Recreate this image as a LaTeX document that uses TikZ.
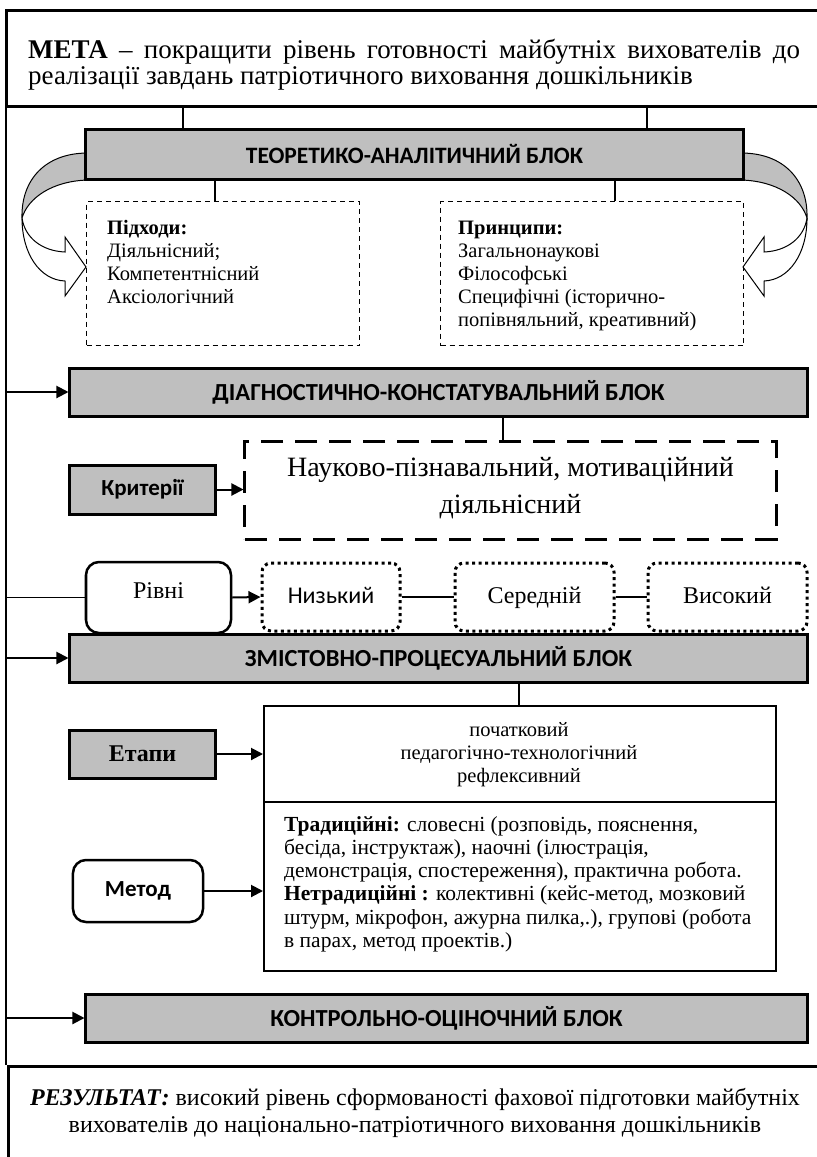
\documentclass[tikz,border=0pt]{standalone}
\usepackage{fontspec}
\setmainfont{Liberation Serif}
\newfontfamily\calfont{Carlito}
\usetikzlibrary{arrows.meta}
\definecolor{blockgray}{RGB}{191,191,191}
\begin{document}
\begin{tikzpicture}[x=1bp,y=-1bp,
  blk/.style={draw, line width=3bp, fill=blockgray, inner sep=0pt, font=\calfont\bfseries\fontsize{24.5bp}{28bp}\selectfont},
  smallblk/.style={draw, line width=3bp, fill=blockgray, inner sep=0pt, minimum width=145bp, minimum height=49bp},
  rbox/.style={draw, line width=2.5bp, rounded corners=13bp, inner sep=0pt, fill=white},
  dbox/.style={draw, line width=1.3bp, dash pattern=on 5bp off 4bp, inner sep=0pt},
  bigdash/.style={draw, line width=3bp, dash pattern=on 22bp off 12bp, inner sep=0pt},
  dotbox/.style={draw, line width=3bp, dash pattern=on 3bp off 3.5bp, rounded corners=9bp, inner sep=0pt,
     minimum height=68bp, text height=17bp, text depth=4bp, font=\fontsize{24bp}{28bp}\selectfont},
  sbox/.style={draw, line width=1.5bp, inner sep=0pt},
  conn/.style={line width=1.3bp},
  spine/.style={line width=1.5bp},
  arr/.style={line width=2bp, -{Triangle[length=12bp,width=12bp]}},
  txt20/.style={inner sep=0pt, anchor=base west, font=\fontsize{20.5bp}{23bp}\selectfont},
  txt21/.style={inner sep=0pt, anchor=base west, font=\fontsize{21.5bp}{23bp}\selectfont},
  ctr20/.style={inner sep=0pt, anchor=base, font=\fontsize{20.5bp}{23bp}\selectfont},
  ctr24/.style={inner sep=0pt, anchor=base, font=\fontsize{24bp}{28bp}\selectfont},
  ctr28/.style={inner sep=0pt, anchor=base, font=\fontsize{28bp}{33bp}\selectfont},
  frame/.style={draw, line width=3bp, inner sep=0pt}
]
\useasboundingbox (0,0) rectangle (817,1157);
\clip (0,0) rectangle (817,1157);

% ---------- frame boxes ----------
\node[frame, minimum width=830bp, minimum height=96bp, anchor=north west] (meta) at (5,9) {};
\node[inner sep=0pt, anchor=base west, font=\fontsize{27bp}{28bp}\selectfont] (meta1) at (28,58)
  {\makebox[772bp][s]{\textbf{МЕТА} – покращити рівень готовності майбутніх вихователів до}};
\node[inner sep=0pt, anchor=base west, font=\fontsize{27bp}{28bp}\selectfont] (meta2) at (28,84)
  {реалізації завдань патріотичного виховання дошкільників};

\node[frame, minimum width=830bp, minimum height=120bp, anchor=north west] (res) at (7,1065) {};
\node[ctr24] (res1) at (415,1105) {\textbf{\textit{РЕЗУЛЬТАТ:}} високий рівень сформованості фахової підготовки майбутніх};
\node[ctr24] (res2) at (415,1132) {вихователів до національно-патріотичного виховання дошкільників};

% spine
\coordinate (sTop) at (6,105);
\coordinate (sBot) at (6,1065);
\draw[spine] (sTop) -- (sBot);

% ---------- curved arrows ----------
\begin{scope}
  \filldraw[fill=blockgray, line width=1bp] (88,153) .. controls (45,153) and (21,180) .. (22,218)
     .. controls (28,198) and (52,181) .. (88,180) -- cycle;
  \filldraw[fill=white, line width=1bp] (22,218) .. controls (22,254) and (40,280) .. (65,281)
     -- (65,296) -- (86,267) -- (65,237) -- (65,252) .. controls (42,251) and (25,238) .. (22,218) -- cycle;
\end{scope}
\begin{scope}[xshift=829bp, xscale=-1]
  \filldraw[fill=blockgray, line width=1bp] (88,153) .. controls (45,153) and (21,180) .. (22,218)
     .. controls (28,198) and (52,181) .. (88,180) -- cycle;
  \filldraw[fill=white, line width=1bp] (22,218) .. controls (22,254) and (40,280) .. (65,281)
     -- (65,296) -- (86,267) -- (65,237) -- (65,252) .. controls (42,251) and (25,238) .. (22,218) -- cycle;
\end{scope}

% ---------- theoretical block ----------
\node[blk, minimum width=657bp, minimum height=50bp, font=\calfont\bfseries\fontsize{23.5bp}{28bp}\selectfont] (teor) at (414.5,154) {ТЕОРЕТИКО-АНАЛІТИЧНИЙ БЛОК};
\coordinate (m1) at (183,105);
\coordinate (m2) at (647,105);
\draw[conn] (m1) -- (m1 |- teor.north);
\draw[conn] (m2) -- (m2 |- teor.north);

\node[dbox, minimum width=273bp, minimum height=144bp, anchor=north west] (appr) at (86,201) {};
\node[dbox, minimum width=303bp, minimum height=144bp, anchor=north west] (princ) at (440,201) {};
\coordinate (t1) at (215,0);
\coordinate (t2) at (615,0);
\draw[conn] (t1 |- teor.south) -- (t1 |- appr.north);
\draw[conn] (t2 |- teor.south) -- (t2 |- princ.north);

\node[txt20] (a1) at (107,234) {\textbf{Підходи:}};
\node[txt20] (a2) at (107,257) {Діяльнісний;};
\node[txt20] (a3) at (107,280) {Компетентнісний};
\node[txt20] (a4) at (107,303) {Аксіологічний};

\node[txt20] (p1) at (458,234) {\textbf{Принципи:}};
\node[txt20] (p2) at (458,257) {Загальнонаукові};
\node[txt20] (p3) at (458,280) {Філософські};
\node[txt20] (p4) at (458,303) {Специфічні (історично-};
\node[txt20] (p5) at (458,326) {попівняльний, креативний)};

% ---------- diagnostic block ----------
\node[blk, minimum width=737bp, minimum height=48bp] (diag) at (438.5,392) {ДІАГНОСТИЧНО-КОНСТАТУВАЛЬНИЙ БЛОК};
\draw[arr] (sTop |- diag.west) -- (diag.west);

\node[bigdash, minimum width=531bp, minimum height=98bp] (critbox) at (510.5,490) {};
\coordinate (d1) at (503,0);
\draw[conn] (d1 |- diag.south) -- (d1 |- critbox.north);
\node[ctr28] (c1) at (510.5,476.5) {Науково-пізнавальний, мотиваційний};
\node[ctr28] (c2) at (510.5,513.5) {діяльнісний};

\node[smallblk, font=\calfont\bfseries\fontsize{23bp}{27bp}\selectfont] (crit) at (142.5,489.5) {Критерії\hspace{15bp}};
\draw[arr] (crit.east) -- (critbox.west |- crit.east);

% ---------- levels ----------
\node[rbox, minimum width=145bp, minimum height=71bp, text height=17bp, text depth=4bp, font=\fontsize{24bp}{28bp}\selectfont] (rivni) at (158.5,597.5) {\raisebox{6bp}{Рівні}};
\draw[conn] (sTop |- rivni.west) -- (rivni.west);
\node[dotbox, minimum width=138bp, font=\calfont\fontsize{24bp}{28bp}\selectfont] (low) at (331,597) {Низький};
\node[dotbox, minimum width=159bp] (mid) at (534.5,597) {Середній};
\node[dotbox, minimum width=159bp] (high) at (727.5,597) {Високий};
\draw[arr] (rivni.east) -- (low.west);
\draw[conn] (low.east) -- (mid.west);
\draw[conn] (mid.east) -- (high.west);

% ---------- content block ----------
\node[blk, minimum width=737bp, minimum height=48bp] (zmist) at (438.5,658) {ЗМІСТОВНО-ПРОЦЕСУАЛЬНИЙ БЛОК};
\draw[arr] (sTop |- zmist.west) -- (zmist.west);

\node[sbox, minimum width=512bp, minimum height=96bp, anchor=north west] (stages) at (263,705) {};
\node[sbox, minimum width=512bp, minimum height=169bp, anchor=north west] (methods) at (263,801) {};
\coordinate (z1) at (519,0);
\draw[conn] (z1 |- zmist.south) -- (z1 |- stages.north);

\node[ctr20] (s1) at (519,736) {початковий};
\node[ctr20] (s2) at (519,759) {педагогічно-технологічний};
\node[ctr20] (s3) at (519,782) {рефлексивний};

\node[txt21] (mt1) at (284,831) {\textbf{Традиційні:} словесні (розповідь, пояснення,};
\node[txt21] (mt2) at (284,854.3) {бесіда, інструктаж), наочні (ілюстрація,};
\node[txt21] (mt3) at (284,877.6) {демонстрація, спостереження), практична робота.};
\node[txt21] (mt4) at (284,900.9) {\textbf{Нетрадиційні :} колективні (кейс-метод, мозковий};
\node[txt21] (mt5) at (284,924.2) {штурм, мікрофон, ажурна пилка,.), групові (робота};
\node[txt21] (mt6) at (284,947.5) {в парах, метод проектів.)};

\node[smallblk, minimum height=48bp, font=\bfseries\fontsize{24bp}{28bp}\selectfont] (etapy) at (142.5,754) {Етапи\hspace{34bp}};
\draw[arr] (etapy.east) -- (stages.west |- etapy.east);

\node[rbox, minimum width=130bp, minimum height=62bp, font=\calfont\bfseries\fontsize{23bp}{27bp}\selectfont] (metod) at (138,891) {Метод\hspace{12bp}};
\draw[arr] (metod.east) -- (methods.west |- metod.east);

% ---------- control block ----------
\node[blk, minimum width=721bp, minimum height=48bp] (kontr) at (446.5,1018) {КОНТРОЛЬНО-ОЦІНОЧНИЙ БЛОК};
\draw[arr] (sTop |- kontr.west) -- (kontr.west);

\end{tikzpicture}
\end{document}
